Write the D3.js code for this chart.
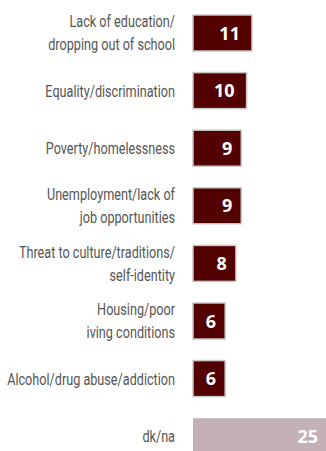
<!DOCTYPE html>
<html>
<head>
<meta charset="utf-8">
<script src="https://cdn.jsdelivr.net/npm/d3@7"></script>
<style>
  html, body { margin: 0; padding: 0; background: #fff; overflow: hidden; }
</style>
</head>
<body>
<script>
// categories (line breaks as in the picture), values, highlight flag
var categories = [
  "Lack of education/|dropping out of school",
  "Equality/discrimination",
  "Poverty/homelessness",
  "Unemployment/lack of|job opportunities",
  "Threat to culture/traditions/|self-identity",
  "Housing/poor|iving conditions",
  "Alcohol/drug abuse/addiction",
  "dk/na"
];
var values = [11, 10, 9, 9, 8, 6, 6, 25];
var isMuted = [false, false, false, false, false, false, false, true];

var width = 326, height = 451;
var labelRight = 175, labelMaxWidth = 168;

var svg = d3.select("body").append("svg")
    .attr("width", width)
    .attr("height", height);

//__scales__//
var x = d3.scaleLinear()
    .domain([0, 25])
    .range([193, 327]);

var y = d3.scaleBand()
    .domain(d3.range(categories.length))
    .range([15, 454.2])
    .paddingInner(0.375)
    .paddingOuter(0);

var rows = svg.selectAll("g.row")
    .data(values)
    .enter().append("g")
    .attr("class", "row");

//bars
rows.append("rect")
    .attr("x", x(0))
    .attr("y", (d, i) => y(i))
    .attr("width", (d) => x(d) - x(0))
    .attr("height", y.bandwidth())
    .attr("fill", (d, i) => isMuted[i] ? "#c4b1b5" : "#520000")
    .attr("stroke", (d, i) => isMuted[i] ? "none" : "#c8c8c8")
    .attr("stroke-width", 1.5);

//values inside bars
rows.append("text")
    .attr("x", (d, i) => x(d) - (d >= 10 && !isMuted[i] ? 12 : 9))
    .attr("y", (d, i) => y(i) + y.bandwidth() / 2 + 6.5)
    .attr("text-anchor", "end")
    .attr("fill", "#fff")
    .style("font-family", "'Open Sans', 'DejaVu Sans', sans-serif")
    .style("font-weight", "bold")
    .style("font-size", "18px")
    .text((d) => d);

//category labels - the original face is a condensed one, so squeeze a normal face
var lineGap = 23;
var labels = rows.append("text")
    .attr("text-anchor", "end")
    .attr("fill", "#555")
    .style("font-family", "Roboto, 'Noto Sans', sans-serif")
    .style("font-size", "17px")
    .each(function (d, i) {
        var lines = categories[i].split("|");
        var cy = y(i) + y.bandwidth() / 2 + 6 - (lines.length - 1) * lineGap / 2;
        var t = d3.select(this);
        lines.forEach(function (s, k) {
            t.append("tspan")
                .attr("x", 0)
                .attr("y", cy + k * lineGap)
                .text(s);
        });
    });

var widest = 0;
labels.selectAll("tspan").each(function () {
    widest = Math.max(widest, this.getComputedTextLength());
});
var squeeze = labelMaxWidth / widest;
labels.attr("transform", "translate(" + labelRight + ",0) scale(" + squeeze + ",1)");
</script>
</body>
</html>
